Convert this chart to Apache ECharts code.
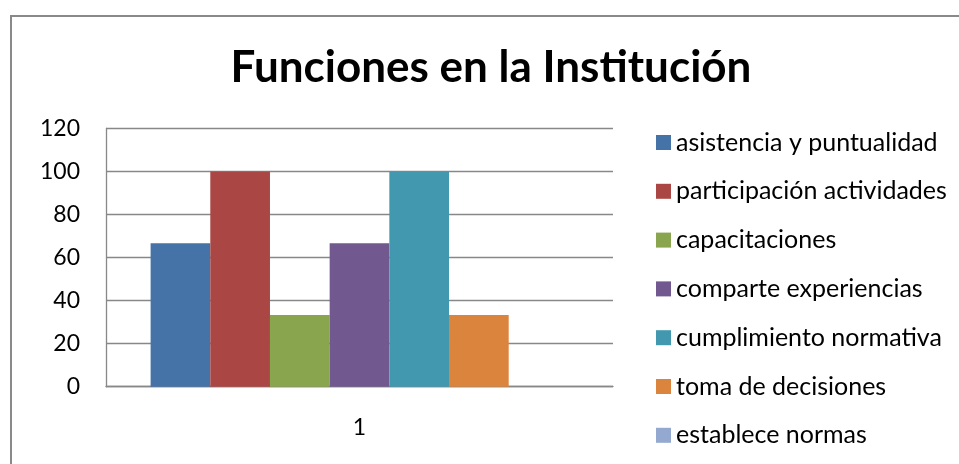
<!DOCTYPE html>
<html>
<head>
<meta charset="utf-8">
<script src="https://cdn.jsdelivr.net/npm/echarts@6/dist/echarts.min.js"></script>
<style>
  html, body { margin: 0; padding: 0; background: #ffffff; overflow: hidden; }
  #chart { width: 959px; height: 464px; }
</style>
</head>
<body>
<div id="chart"></div>
<script>
// Category and series data
const categories = ['1'];
const seriesNames = [
  'asistencia y puntualidad',
  'participación actividades',
  'capacitaciones',
  'comparte experiencias',
  'cumplimiento normativa',
  'toma de decisiones',
  'establece normas'
];
const seriesValues = [66.67, 100, 33.33, 66.67, 100, 33.33, 0];
const seriesColors = ['#4572A7', '#AA4643', '#89A54E', '#71588F', '#4198AF', '#DB843D', '#93A9CF'];
const yTicks = { min: 0, max: 120, interval: 20 };

const FONT = 'Lato, "Open Sans", sans-serif';
const chart = echarts.init(document.getElementById('chart'), null, { renderer: 'canvas' });

const series = seriesNames.map((name, i) => ({
  name: name,
  type: 'bar',
  data: [seriesValues[i]],
  itemStyle: { color: seriesColors[i] },
  barGap: '0%',
  barCategoryGap: '17.6%'
}));

// Outer frame of the chart area (top and left edges)
const frameStyle = { stroke: '#898989', lineWidth: 2 };

chart.setOption({
  backgroundColor: '#ffffff',
  animation: false,
  graphic: [
    { type: 'line', shape: { x1: 10, y1: 16, x2: 959, y2: 16 }, style: frameStyle },
    { type: 'line', shape: { x1: 11, y1: 15, x2: 11, y2: 464 }, style: frameStyle }
  ],
  title: {
    text: 'Funciones en la Institución',
    left: 491,
    top: 46,
    padding: 0,
    textAlign: 'center',
    textStyle: { fontFamily: FONT, fontWeight: 'bold', fontSize: 44, color: '#000000' }
  },
  legend: {
    orient: 'vertical',
    left: 656,
    top: 130,
    padding: 0,
    itemWidth: 15,
    itemHeight: 15,
    itemGap: 23.8,
    icon: 'rect',
    data: seriesNames,
    textStyle: { fontFamily: FONT, fontSize: 25, color: '#000000', lineHeight: 24 }
  },
  grid: { left: 106, right: 346, top: 128.5, bottom: 77.3, containLabel: false },
  xAxis: {
    type: 'category',
    data: categories,
    axisLine: { show: true, lineStyle: { color: '#888888', width: 1.3 } },
    axisTick: { show: false },
    axisLabel: { fontFamily: FONT, fontSize: 23, color: '#000000', margin: 29 },
    splitLine: { show: false }
  },
  yAxis: {
    type: 'value',
    min: yTicks.min,
    max: yTicks.max,
    interval: yTicks.interval,
    axisLine: { show: true, lineStyle: { color: '#888888', width: 1.3 } },
    axisTick: { show: false },
    axisLabel: { fontFamily: FONT, fontSize: 23, color: '#000000', margin: 26 },
    splitLine: { show: true, lineStyle: { color: '#888888', width: 1.3 } }
  },
  series: series
});
</script>
</body>
</html>
